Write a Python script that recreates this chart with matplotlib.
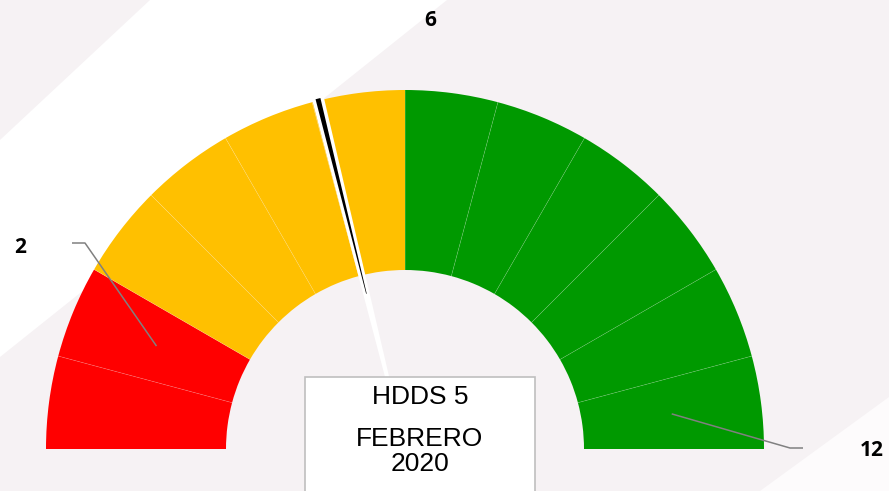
import numpy as np
import matplotlib.pyplot as plt
from matplotlib.patches import Wedge, Polygon, Rectangle

# --- data ---
zone_sizes = [2, 4, 6]                      # red / yellow / green segments
zone_colors = ['#FF0000', '#FFC000', '#009900']
zone_labels = ['2', '6', '12']              # cumulative end of each zone
hdds_value = 5
needle_value = 5.07                         # where the needle sits on the 0-12 scale
month = 'FEBRERO'
year = '2020'

# --- layout (pixel units, y up) ---
W, H = 889, 491
cx, cy = 405, 42
R_out, R_in = 359, 179
total = sum(zone_sizes)
deg_per_unit = 180 / total

def angle_of(v):
    return 180 - v * deg_per_unit

def polar(r, ang):
    a = np.radians(ang)
    return cx + r * np.cos(a), cy + r * np.sin(a)

fig = plt.figure(figsize=(W / 100, H / 100), dpi=100)
fig.patch.set_facecolor('#F6F2F4')
ax = fig.add_axes([0, 0, 1, 1])
ax.set_xlim(0, W)
ax.set_ylim(0, H)
ax.set_aspect('equal')
ax.axis('off')

# white diagonal light bands in the background
ax.add_patch(Polygon([(0, H - 140), (150, H), (447, H), (0, H - 357)],
                     closed=True, facecolor='white', edgecolor='none', zorder=0))
ax.add_patch(Polygon([(760, 0), (W, H - 397), (W, 0)],
                     closed=True, facecolor='#FDFBFC', edgecolor='none', zorder=0))

# --- gauge segments ---
seg_colors = []
for n, c in zip(zone_sizes, zone_colors):
    seg_colors += [c] * n
for i, c in enumerate(seg_colors):
    ax.add_patch(Wedge((cx, cy), R_out, angle_of(i + 1), angle_of(i),
                       width=R_out - R_in, facecolor=c, edgecolor='none', zorder=2))
# faint dividers between segments
for i in range(1, total):
    x0, y0 = polar(R_in, angle_of(i))
    x1, y1 = polar(R_out, angle_of(i))
    ax.plot([x0, x1], [y0, y1], color='white', lw=0.5, alpha=0.22, zorder=3)

# --- data labels with leader lines ---
ends = np.cumsum(zone_sizes)
label_text_pos = {'2': (20, 244), '6': (430, 471), '12': (872, 41)}
label_elbows = {'2': [(85, 248), (72, 248)], '12': [(790, 43), (803, 43)]}
for lab, end in zip(zone_labels, ends):
    tx, ty = label_text_pos[lab]
    ax.text(tx, ty, lab, fontsize=15, fontweight='bold', family='Open Sans',
            ha='center', va='center', color='black', zorder=6)
    if lab in label_elbows:
        sx, sy = polar((R_out + R_in) / 2, angle_of(end - 0.5))
        pts = [(sx, sy)] + label_elbows[lab]
        ax.plot([p[0] for p in pts], [p[1] for p in pts], color='#808080',
                lw=1.1, zorder=5, solid_capstyle='butt')

# --- needle ---
na = np.radians(angle_of(needle_value))
d = np.array([np.cos(na), np.sin(na)])
nrm = np.array([-d[1], d[0]])
c0 = np.array([cx, cy])
tip = 362
white = [c0 + nrm * 1.0, c0 + d * tip + nrm * 6, c0 + d * tip - nrm * 6, c0 - nrm * 1.0]
ax.add_patch(Polygon(white, closed=True, facecolor='white', edgecolor='none', zorder=4))
black = [c0 + d * 160 + nrm * 0.3, c0 + d * (tip - 1) + nrm * 2.5,
         c0 + d * (tip - 1) - nrm * 2.5, c0 + d * 160 - nrm * 0.3]
ax.add_patch(Polygon(black, closed=True, facecolor='black', edgecolor='none', zorder=4.5))

# --- info box ---
ax.add_patch(Rectangle((305, -20), 230, H - 377 + 20, facecolor='white',
                       edgecolor='#BFBFBF', lw=1.2, zorder=7))
box_font = dict(fontsize=19, family='Liberation Sans', ha='center', va='center',
                color='black', zorder=8)
ax.text(420, H - 397, f'HDDS {hdds_value}', **box_font)
ax.text(420, H - 439, month, **box_font)
ax.text(420, H - 464, year, **box_font)

fig.savefig('out.png', dpi=100, facecolor=fig.get_facecolor())
